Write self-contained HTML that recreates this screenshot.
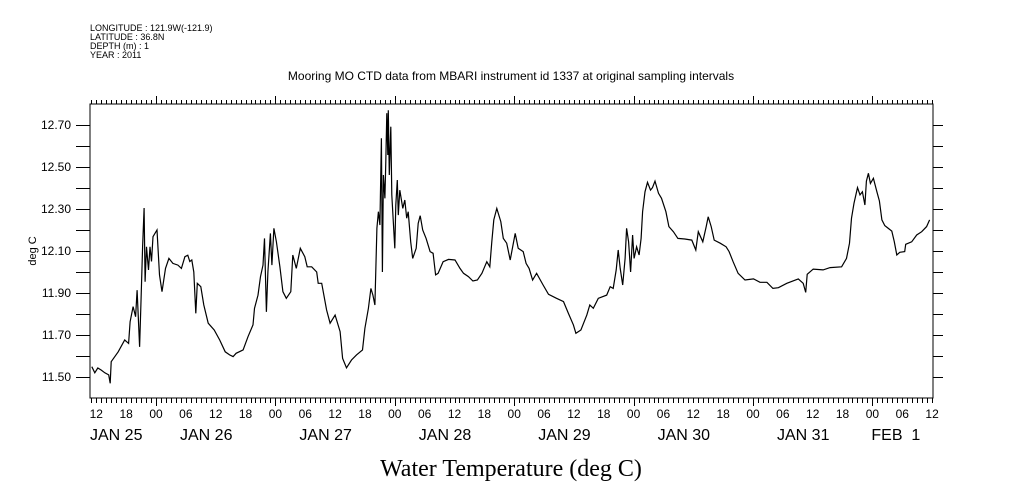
<!DOCTYPE html>
<html><head><meta charset="utf-8"><style>
html,body{margin:0;padding:0;background:#fff;}
svg{display:block;font-family:"Liberation Sans",sans-serif;}
</style></head><body>
<svg id="chart" width="1009" height="504" viewBox="0 0 1009 504">
<g font-size="9" fill="#000">
<text x="90" y="31">LONGITUDE : 121.9W(-121.9)</text>
<text x="90" y="40">LATITUDE : 36.8N</text>
<text x="90" y="49">DEPTH (m) : 1</text>
<text x="90" y="58">YEAR : 2011</text>
</g>
<text x="511" y="80" font-size="12" text-anchor="middle">Mooring MO CTD data from MBARI instrument id 1337 at original sampling intervals</text>
<text transform="translate(36,251) rotate(-90)" font-size="11" text-anchor="middle">deg C</text>
<text x="511" y="476" font-size="24" text-anchor="middle" font-family="Liberation Serif, serif">Water Temperature (deg C)</text>
<g id="axes"></g>
<path id="line" fill="none" stroke="#000" stroke-width="1.2"/>
</svg>
<script>
const hours = [11.1,11.7,12.3,13.0,13.7,14.5,14.8,15.0,16.4,17.7,18.5,18.8,19.4,19.9,20.2,20.7,21.0,21.3,21.6,21.8,22.1,22.5,22.8,23.1,23.4,24.2,24.7,25.2,25.9,26.6,27.4,28.4,29.1,29.8,30.4,30.8,31.2,31.6,32.0,32.3,33.0,33.6,34.5,35.7,36.8,37.9,38.8,39.5,40.1,41.5,42.5,43.5,43.8,44.5,45.0,45.5,45.8,46.2,46.5,47.0,47.3,47.7,48.2,48.9,49.5,50.2,51.1,51.5,52.2,53.0,53.9,54.4,55.3,56.3,56.6,57.3,58.3,59.0,60.0,61.0,61.5,62.3,63.3,64.3,65.5,66.0,66.7,67.2,67.6,68.0,68.4,68.7,69.0,69.3,69.5,69.7,70.0,70.2,70.4,70.6,70.7,70.9,71.2,71.4,71.7,72.0,72.2,72.5,72.7,73.0,73.6,74.0,74.4,74.7,75.2,75.6,76.3,76.7,77.1,77.6,78.3,79.1,79.7,80.2,80.7,81.7,82.8,84.1,85.1,85.8,86.8,87.7,88.6,89.5,90.5,91.1,91.5,91.9,92.5,93.3,93.8,94.5,95.2,96.2,96.8,97.8,98.4,99.0,99.7,100.5,101.8,102.9,104.5,105.9,106.9,107.9,108.4,109.4,110.6,111.2,111.9,112.9,114.6,115.3,115.9,116.5,116.9,117.3,117.8,118.3,118.6,119.0,119.4,119.8,120.1,120.6,121.1,121.5,121.8,122.3,122.8,123.4,123.8,124.3,125.0,125.6,126.5,127.1,128.0,128.9,130.3,131.7,132.5,133.0,133.9,134.6,135.0,135.6,136.2,137.4,138.6,139.2,140.0,141.0,142.4,144.1,145.4,146.8,148.0,149.1,150.8,153.1,154.1,154.6,154.9,156.1,158.1,159.5,161.8,162.8,163.4,163.8,164.3,165.0,165.5,166.0,166.5,166.8,167.2,167.6,168.2,168.9,169.4,169.9,170.5,171.9,172.4,172.9,173.5,174.5,174.7,175.9,176.9,177.9,178.9,179.5];
const temps = [11.549,11.52,11.543,11.533,11.52,11.51,11.47,11.573,11.62,11.676,11.66,11.763,11.835,11.787,11.914,11.644,11.876,12.12,12.305,11.954,12.12,12.01,12.12,12.05,12.168,12.2,11.986,11.906,12.017,12.065,12.041,12.033,12.017,12.073,12.08,12.05,12.057,12.0,11.803,11.946,11.93,11.843,11.756,11.724,11.676,11.62,11.605,11.597,11.613,11.629,11.692,11.748,11.827,11.89,11.978,12.033,12.16,11.81,12.0,12.184,12.033,12.208,12.144,12.025,11.906,11.875,11.906,12.081,12.017,12.113,12.073,12.025,12.025,12.0,11.946,11.946,11.819,11.756,11.795,11.716,11.589,11.544,11.581,11.605,11.629,11.732,11.827,11.922,11.89,11.843,12.208,12.287,12.224,12.637,12.0,12.462,12.351,12.525,12.756,12.557,12.77,12.462,12.692,12.367,12.24,12.113,12.319,12.438,12.271,12.39,12.303,12.343,12.256,12.287,12.144,12.065,12.113,12.232,12.268,12.2,12.16,12.097,12.089,11.986,11.994,12.049,12.06,12.057,12.017,11.994,11.978,11.957,11.962,11.994,12.049,12.025,12.144,12.248,12.303,12.24,12.16,12.137,12.057,12.184,12.113,12.097,12.041,12.017,11.962,11.994,11.938,11.894,11.875,11.859,11.803,11.748,11.708,11.724,11.795,11.843,11.827,11.875,11.89,11.93,11.922,12.01,12.105,12.017,11.938,12.065,12.208,12.144,12.0,12.176,12.065,12.12,12.081,12.16,12.287,12.382,12.427,12.39,12.402,12.433,12.375,12.351,12.287,12.216,12.192,12.16,12.157,12.152,12.105,12.192,12.144,12.216,12.263,12.216,12.152,12.137,12.12,12.097,12.049,11.994,11.962,11.967,11.951,11.951,11.922,11.925,11.946,11.967,11.946,11.903,11.989,12.014,12.01,12.021,12.025,12.065,12.137,12.256,12.327,12.402,12.367,12.382,12.319,12.433,12.47,12.422,12.446,12.382,12.338,12.248,12.221,12.195,12.144,12.081,12.094,12.097,12.132,12.144,12.176,12.192,12.216,12.248];
const yTickLabels = ["12.70","12.50","12.30","12.10","11.90","11.70","11.50"];
const hourLabels = ["12","18","00","06","12","18","00","06","12","18","00","06","12","18","00","06","12","18","00","06","12","18","00","06","12","18","00","06","12"];
const dateLabels = ["JAN 25","JAN 26","JAN 27","JAN 28","JAN 29","JAN 30","JAN 31","FEB  1"];

const L=90,R=933,T=104,B=398;
const hMin=24+(L-156)/4.975, hMax=24+(R-156)/4.975;
const yMin=11.40,yMax=12.80;
const xs=h=>L+(h-hMin)/(hMax-hMin)*(R-L);
const ys=v=>B-(v-yMin)/(yMax-yMin)*(B-T);
const NS="http://www.w3.org/2000/svg";
const ax=document.getElementById('axes');
function mk(tag,attrs,parent){const e=document.createElementNS(NS,tag);for(const k in attrs)e.setAttribute(k,attrs[k]);(parent||ax).appendChild(e);return e;}
let frame=mk('rect',{x:L,y:T,width:R-L,height:B-T,fill:'none',stroke:'#000','stroke-width':1});


for(let i=1;i<14;i++){
  const v=yMin+i*0.1, y=Math.round(ys(v))+0.5;
  let t=mk('line',{x1:L-14,x2:L,y1:y,y2:y,stroke:'#000'});
  
  
  let t2=mk('line',{x1:R,x2:R+10,y1:y,y2:y,stroke:'#000'});
  
  
}
yTickLabels.forEach(s=>{
  const v=parseFloat(s);
  let t=mk('text',{x:71,y:ys(v)+4,'font-size':12,'text-anchor':'end'});
  t.textContent=s;
  
  
});
for(let h=Math.ceil(hMin);h<=hMax;h++){
  const x=Math.round(xs(h))+0.5, major=h%24===0;
  let t=mk('line',{x1:x,x2:x,y1:T,y2:T-(major?8:4),stroke:'#000'});
  
  
  let b=mk('line',{x1:x,x2:x,y1:B,y2:B+(major?8:5),stroke:'#000'});
  
  
}
hourLabels.forEach((s,i)=>{
  const h=12+i*6;
  let t=mk('text',{x:xs(h),y:418,'font-size':12,'text-anchor':'middle'});
  t.textContent=s;
  
  
});
dateLabels.forEach((s,i)=>{
  let x;
  if(i===0)x=L; else if(i===dateLabels.length-1)x=xs(24*i)-1; else x=xs(24*i)+24;
  let t=mk('text',{x:x,y:440,'font-size':16});
  t.setAttribute('style','white-space:pre');
  t.textContent=s;
  
  
});
let d='';
hours.forEach((h,i)=>{d+=(i?'L':'M')+xs(h).toFixed(1)+','+ys(temps[i]).toFixed(1);});
document.getElementById('line').setAttribute('d',d);
</script>
</body></html>
